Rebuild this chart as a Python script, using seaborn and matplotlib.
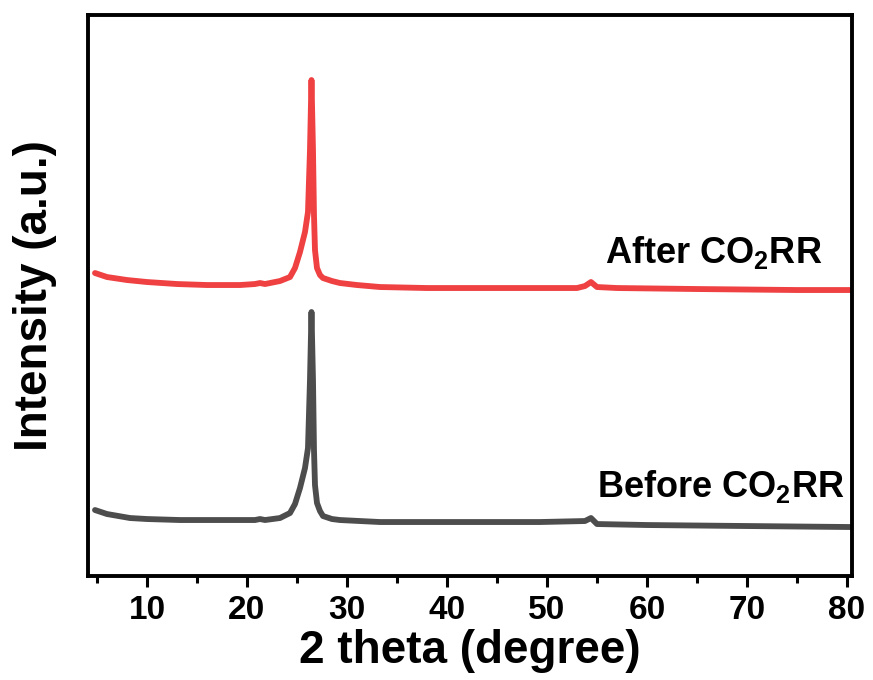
import matplotlib
matplotlib.use("Agg")
import matplotlib.pyplot as plt
import seaborn as sns
import pandas as pd
from matplotlib.ticker import MultipleLocator

# XRD patterns of the catalyst before and after CO2 reduction (arbitrary intensity units)
two_theta_after = [4.8, 6, 8, 10, 13, 16, 19.3, 20.8, 21.3, 21.8, 23.3, 24.3, 24.8, 25.3,
                   25.8, 26.1, 26.3, 26.45, 26.6, 26.7, 26.8, 27.0, 27.3, 27.6, 28.5, 29.3,
                   31, 33.3, 38, 45, 49.3, 53, 53.8, 54.4, 55.0, 57, 65, 75, 80.3]
intensity_after = [303, 299, 296, 294, 292, 291, 291, 292, 293, 292, 295, 299, 308, 324,
                   344, 364, 426, 496, 426, 361, 326, 308, 301, 298, 295, 293,
                   291, 289, 288, 288, 288, 288, 290, 294, 289, 288, 287, 286, 286]

two_theta_before = [4.8, 6, 8.3, 10, 13.3, 17, 20.8, 21.3, 21.8, 23.3, 24.3, 24.8, 25.3,
                    25.8, 26.1, 26.3, 26.45, 26.6, 26.7, 26.8, 27.0, 27.3, 27.6, 28.5, 29.3,
                    33.3, 40, 49.3, 53.8, 54.4, 55.0, 60, 70, 80.3]
intensity_before = [66, 62, 58, 57, 56, 56, 56, 57, 56, 58, 63, 72, 88,
                    108, 128, 196, 264, 196, 126, 91, 73, 65, 60, 57, 56,
                    54, 54, 54, 55, 58, 52, 51, 50, 49]

labels = ["Before CO$_{\\mathbf{2}}$RR", "After CO$_{\\mathbf{2}}$RR"]
x_ticks = [10, 20, 30, 40, 50, 60, 70, 80]

df = pd.concat([
    pd.DataFrame({"two_theta": two_theta_before, "intensity": intensity_before, "sample": "before"}),
    pd.DataFrame({"two_theta": two_theta_after, "intensity": intensity_after, "sample": "after"}),
])

sns.set_style("ticks")
plt.rcParams["font.family"] = ["Liberation Sans", "DejaVu Sans"]
plt.rcParams["mathtext.fontset"] = "custom"
plt.rcParams["mathtext.rm"] = "Liberation Sans"
plt.rcParams["mathtext.bf"] = "Liberation Sans:bold"
plt.rcParams["text.color"] = "black"
plt.rcParams["axes.labelcolor"] = "black"
plt.rcParams["xtick.color"] = "black"
plt.rcParams["xtick.labelcolor"] = "black"

fig = plt.figure(figsize=(8.73, 6.8), dpi=100)
ax = fig.add_axes([0.1008, 0.1529, 0.8751, 0.825])

sns.lineplot(data=df, x="two_theta", y="intensity", hue="sample",
             palette={"before": "#4d4d4d", "after": "#ef4042"},
             linewidth=4.2, legend=False, ax=ax, sort=False, estimator=None)

ax.set_xlim(4.1, 80.5)
ax.set_ylim(0, 561)
ax.set_xticks(x_ticks)
ax.xaxis.set_minor_locator(MultipleLocator(5))
ax.set_yticks([])

for side in ["left", "right", "top", "bottom"]:
    ax.spines[side].set_visible(True)
    ax.spines[side].set_linewidth(2.8)
    ax.spines[side].set_color("black")

ax.tick_params(axis="x", which="major", direction="out", length=8, width=2.2,
               labelsize=24, pad=6, colors="black")
ax.tick_params(axis="x", which="minor", direction="out", length=5, width=2.2)
for lbl in ax.get_xticklabels():
    lbl.set_fontweight("bold")

ax.set_xlabel("2 theta (degree)", fontsize=33, fontweight="bold", labelpad=2, color="black")
ax.set_ylabel("Intensity (a.u.)", fontsize=33, fontweight="bold", labelpad=22, color="black")

ax.text(55.0, 79, labels[0], fontsize=26, fontweight="bold", va="baseline", ha="left", color="black")
ax.text(55.8, 313, labels[1], fontsize=26, fontweight="bold", va="baseline", ha="left", color="black")

fig.savefig("out.png", dpi=100)
